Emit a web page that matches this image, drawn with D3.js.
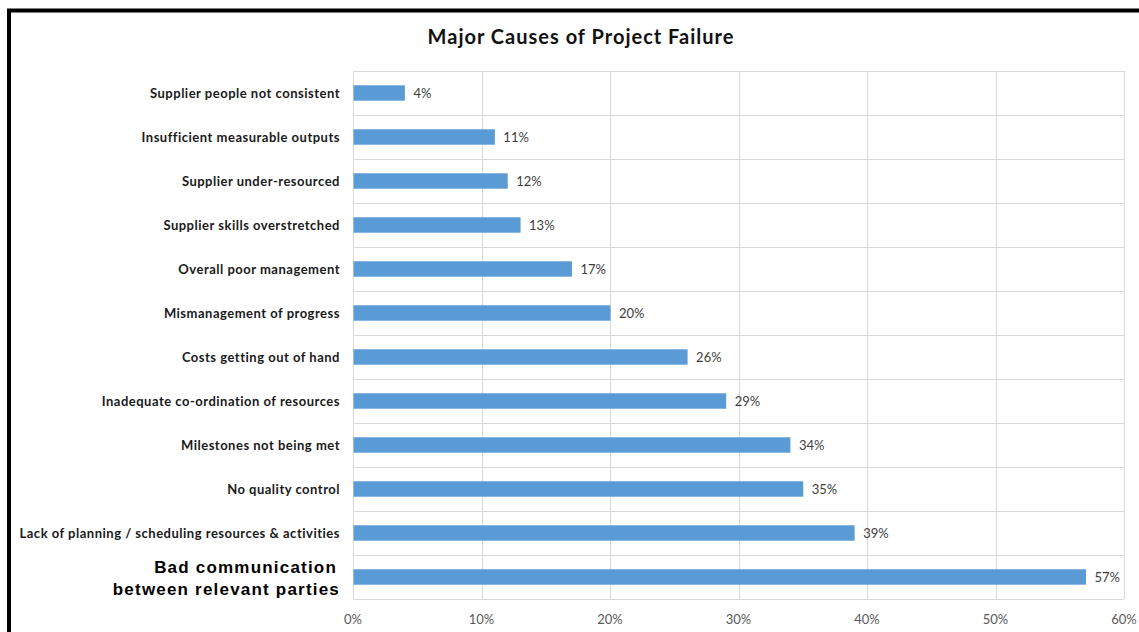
<!DOCTYPE html>
<html>
<head>
<meta charset="utf-8">
<script src="https://cdn.jsdelivr.net/npm/d3@7"></script>
<style>
  body { margin: 0; background: #fff; }
  svg { display: block; }
</style>
</head>
<body>
<svg id="chart" width="1139" height="632"></svg>
<script>
// data, top to bottom as in the picture
const causes = [
  "Supplier people not consistent",
  "Insufficient measurable outputs",
  "Supplier under-resourced",
  "Supplier skills overstretched",
  "Overall poor management",
  "Mismanagement of progress",
  "Costs getting out of hand",
  "Inadequate co-ordination of resources",
  "Milestones not being met",
  "No quality control",
  "Lack of planning / scheduling resources & activities",
  "Bad communication between relevant parties"
];
const percents = [4, 11, 12, 13, 17, 20, 26, 29, 34, 35, 39, 57];
const tickValues = [0, 10, 20, 30, 40, 50, 60];
const title = "Major Causes of Project Failure";

const svg = d3.select("#chart");
const plotLeft = 353, plotRight = 1124, plotTop = 71, plotBottom = 599;

const x = d3.scaleLinear().domain([0, 60]).range([plotLeft, plotRight]);
const y = d3.scaleBand().domain(causes).range([plotTop, plotBottom]).paddingInner(0.65).paddingOuter(0.325);
const rows = d3.scaleBand().domain(causes).range([plotTop, plotBottom]);

// frame (black top and left edge of the screenshot)
svg.append("line").attr("x1", 7).attr("x2", 1139).attr("y1", 10.5).attr("y2", 10.5)
  .attr("stroke", "#000").attr("stroke-width", 4);
svg.append("line").attr("x1", 9).attr("x2", 9).attr("y1", 9).attr("y2", 632)
  .attr("stroke", "#000").attr("stroke-width", 4);

svg.append("text")
  .attr("x", 581).attr("y", 44)
  .attr("text-anchor", "middle")
  .style("font-family", "Lato, 'Open Sans', sans-serif")
  .style("font-weight", "bold")
  .style("font-size", "20px")
  .style("letter-spacing", "1px")
  .attr("fill", "#111")
  .text(title);

// grid
const grid = svg.append("g").attr("stroke", "#d9d9d9").attr("stroke-width", 1);
grid.selectAll(".v").data(tickValues).join("line")
  .attr("x1", d => Math.round(x(d)) + 0.5).attr("x2", d => Math.round(x(d)) + 0.5)
  .attr("y1", plotTop).attr("y2", plotBottom);
grid.selectAll(".h").data(causes.concat(["end"])).join("line")
  .attr("x1", plotLeft).attr("x2", plotRight)
  .attr("y1", (d, i) => Math.round(plotTop + i * rows.bandwidth()) + 0.5)
  .attr("y2", (d, i) => Math.round(plotTop + i * rows.bandwidth()) + 0.5);

// bars
svg.selectAll(".bar").data(percents).join("rect")
  .attr("class", "bar")
  .attr("x", x(0) + 0.5)
  .attr("y", (d, i) => y(causes[i]))
  .attr("width", d => x(d) - x(0))
  .attr("height", y.bandwidth())
  .attr("fill", "#5b9bd5");

// value labels
svg.selectAll(".val").data(percents).join("text")
  .attr("x", d => x(d) + 9)
  .attr("y", (d, i) => y(causes[i]) + y.bandwidth() / 2 + 4.5)
  .style("font-family", "Lato, 'Open Sans', sans-serif")
  .style("font-size", "13px")
  .attr("fill", "#404040")
  .text(d => d + "%");

// category labels
const last = causes.length - 1;
svg.selectAll(".cat").data(causes.slice(0, last)).join("text")
  .attr("x", 340)
  .attr("y", d => rows(d) + rows.bandwidth() / 2 + 4.5)
  .attr("text-anchor", "end")
  .style("font-family", "Lato, 'Open Sans', sans-serif")
  .style("font-weight", "bold")
  .style("font-size", "13px")
  .style("letter-spacing", "0.5px")
  .attr("fill", "#1a1a1a")
  .text(d => d);

const big = svg.append("text")
  .attr("text-anchor", "end")
  .style("font-family", "'Liberation Sans', Arial, sans-serif")
  .style("font-weight", "bold")
  .style("font-size", "17px")
  .style("letter-spacing", "1.2px")
  .attr("fill", "#000");
big.append("tspan").attr("x", 337).attr("y", rows(causes[last]) + rows.bandwidth() / 2 - 4).text("Bad communication");
big.append("tspan").attr("x", 340).attr("y", rows(causes[last]) + rows.bandwidth() / 2 + 18).text("between relevant parties");

// x axis tick labels
svg.selectAll(".tick").data(tickValues).join("text")
  .attr("x", d => x(d))
  .attr("y", 624)
  .attr("text-anchor", "middle")
  .style("font-family", "Lato, 'Open Sans', sans-serif")
  .style("font-size", "13px")
  .attr("fill", "#595959")
  .text(d => d + "%");
</script>
</body>
</html>
